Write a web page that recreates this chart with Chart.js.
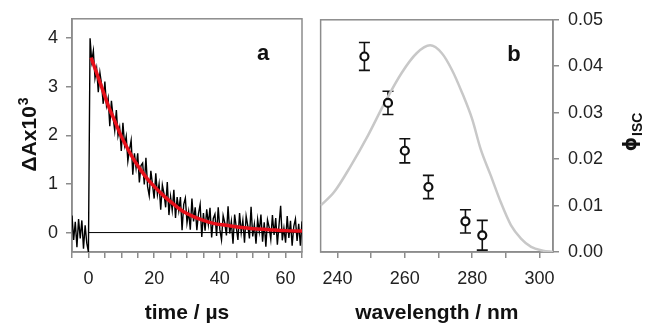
<!DOCTYPE html>
<html>
<head>
<meta charset="utf-8">
<script src="https://cdn.jsdelivr.net/npm/chart.js@4.4.1/dist/chart.umd.min.js"></script>
<style>
  html, body { margin: 0; padding: 0; background: #fff; }
  #wrap { position: relative; width: 647px; height: 326px; }
  #decayChart { position: absolute; left: 0; top: 0; }
  #yieldChart { position: absolute; left: 312px; top: 0; }
</style>
</head>
<body>
<div id="wrap">
  <canvas id="decayChart" width="312" height="326"></canvas>
  <canvas id="yieldChart" width="335" height="326"></canvas>
</div>
<script>
// panel a: transient absorption trace, sampled every 0.5 us from -5 us
const traceStart = -5;
const traceStep = 0.5;
const traceValues = [
  0.35, -0.15, 0.22, -0.30, 0.28, -0.12, 0.25, -0.33, 0.15, -0.22, -0.40,
  4.00, 3.52, 3.74, 3.18, 3.38, 2.89, 3.29, 3.05, 2.65, 3.11,
  2.61, 2.77, 2.19, 2.71, 2.38, 2.10, 2.52, 1.99, 2.16, 1.68,
  2.26, 1.80, 1.98, 1.47, 1.71, 1.90, 1.19, 1.63, 1.33, 1.63,
  1.03, 1.38, 1.43, 0.99, 1.54, 0.95, 0.76, 1.27, 0.99, 0.70,
  1.22, 0.78, 1.00, 0.47, 0.98, 0.80, 0.52, 1.04, 0.36, 0.74,
  0.46, 0.88, 0.30, 0.73, 0.45, 0.73, 0.05, 0.58, 0.71, 0.20,
  0.43, 0.06, 0.70, 0.23, 0.52, 0.05, 0.39, 0.58, -0.09, 0.40,
  0.04, 0.48, 0.17, 0.51, -0.10, 0.29, 0.38, -0.07, 0.52, 0.06,
  -0.15, 0.35, 0.20, -0.06, 0.54, -0.02, 0.23, -0.23, 0.37, 0.11,
  -0.15, 0.40, 0.00, 0.25, -0.21, 0.34, 0.14, -0.12, 0.53, -0.08,
  0.17, -0.23, 0.27, 0.02, 0.37, -0.19, 0.21, -0.29, 0.26, 0.11,
  -0.14, 0.36, -0.05, 0.30, -0.25, 0.15, 0.55, -0.16, 0.09, -0.21,
  0.34, -0.11, 0.24, -0.27, 0.13, 0.28, -0.17, 0.18, -0.27, 0.23
];
const fitTimes = [0.8, 2, 4, 6, 8, 10, 12, 14, 16, 18, 20, 23, 26, 29, 32, 35, 38, 42, 46, 50, 55, 60, 65];
const fitValues = [3.60, 3.38, 3.00, 2.62, 2.30, 1.98, 1.72, 1.48, 1.28, 1.10, 0.95, 0.75, 0.58, 0.43, 0.33, 0.25, 0.19, 0.15, 0.11, 0.08, 0.06, 0.04, 0.03];
const baselineTimes = [0, 65];
const baselineValues = [0, 0];

// panel b: ISC quantum yield vs excitation wavelength, plus absorption band
const wavelengths = [248, 255, 260, 267, 278, 283];
const iscYield = [0.0421, 0.0321, 0.0218, 0.0140, 0.0066, 0.0036];
const iscError = [0.0030, 0.0025, 0.0026, 0.0025, 0.0025, 0.0032];
const absWavelengths = [235, 239, 244, 249, 254, 259, 263.5, 267.5, 271, 274, 277, 280, 282.5, 285.5, 288.5, 291.5, 294.5, 297.5, 301, 304];
const absValues = [0.0100, 0.0129, 0.0186, 0.0250, 0.0321, 0.0385, 0.0428, 0.0445, 0.0428, 0.0392, 0.0343, 0.0286, 0.0222, 0.0165, 0.0107, 0.0058, 0.0029, 0.0011, 0.0003, 0.0000];

const frameColor = "#8c8c8c";
const tickColor = "#222";
const titleColor = "#111";
const fontFamily = '"Liberation Sans", Arial, sans-serif';

Chart.defaults.font.family = fontFamily;
Chart.defaults.animation = false;

const toPoints = (xs, ys) => xs.map((x, i) => ({ x, y: ys[i] }));

const framePlugin = {
  id: "frame",
  beforeDatasetsDraw(chart) {
    const { ctx, chartArea: a } = chart;
    ctx.save();
    ctx.strokeStyle = frameColor;
    ctx.lineWidth = 1.5;
    ctx.strokeRect(a.left, a.top, a.right - a.left, a.bottom - a.top);
    ctx.restore();
  }
};

function panelLetter(letter) {
  return {
    id: "panelLetter",
    afterDraw(chart) {
      const { ctx, chartArea: a } = chart;
      ctx.save();
      ctx.fillStyle = titleColor;
      ctx.font = "bold 22px " + fontFamily;
      ctx.textAlign = "center";
      ctx.textBaseline = "alphabetic";
      ctx.fillText(letter, a.right - 39, a.top + 41);
      ctx.restore();
    }
  };
}

// rotated title with a raised/lowered small part, reading bottom to top
function sideTitle(id, main, mainFont, small, smallFont, shift, getPos) {
  return {
    id,
    afterDraw(chart) {
      const { ctx } = chart;
      const p = getPos(chart);
      ctx.save();
      ctx.fillStyle = titleColor;
      ctx.textBaseline = "alphabetic";
      ctx.font = mainFont;
      const w1 = ctx.measureText(main).width;
      ctx.font = smallFont;
      const w2 = ctx.measureText(small).width;
      ctx.translate(p.x, p.y + (w1 + w2 + 1) / 2);
      ctx.rotate(-Math.PI / 2);
      ctx.font = mainFont;
      ctx.fillText(main, 0, 0);
      ctx.font = smallFont;
      ctx.fillText(small, w1 + 1, shift);
      ctx.restore();
    }
  };
}

function baseScales(xOpts, yOpts) {
  const common = {
    type: "linear",
    grid: { drawOnChartArea: false, drawTicks: true, tickLength: 6, color: frameColor, lineWidth: 1.5 },
    border: { color: frameColor, width: 1.5 }
  };
  return {
    x: Object.assign({}, common, xOpts),
    y: Object.assign({}, common, yOpts)
  };
}

// ---------- panel a ----------
new Chart(document.getElementById("decayChart"), {
  type: "line",
  data: {
    datasets: [
      {
        data: toPoints(fitTimes, fitValues),
        borderColor: "#e8101a",
        borderWidth: 3.5,
        pointRadius: 0,
        cubicInterpolationMode: "monotone"
      },
      {
        data: traceValues.map((v, i) => ({ x: traceStart + i * traceStep, y: v })),
        borderColor: "#000",
        borderWidth: 1.4,
        pointRadius: 0,
        tension: 0
      },
      {
        data: toPoints(baselineTimes, baselineValues),
        borderColor: "#000",
        borderWidth: 1,
        pointRadius: 0
      }
    ]
  },
  options: {
    responsive: false,
    devicePixelRatio: 1,
    layout: { padding: { left: 0, right: 5, top: 18, bottom: 0 } },
    plugins: { legend: { display: false }, tooltip: { enabled: false } },
    scales: baseScales(
      {
        min: -5, max: 65,
        ticks: {
          stepSize: 5, autoSkip: false, maxRotation: 0, padding: 10,
          color: tickColor, font: { size: 18 },
          callback: v => (v % 20 === 0 ? v : "")
        },
        title: { display: true, text: "time / µs", color: titleColor, font: { size: 21, weight: "bold" }, padding: { top: 0, bottom: 0 } },
        afterFit: s => { s.height = 74; }
      },
      {
        min: -0.4, max: 4.4,
        ticks: { stepSize: 1, includeBounds: false, padding: 8, color: tickColor, font: { size: 18 } },
        afterFit: s => { s.width = 72; }
      }
    )
  },
  plugins: [
    framePlugin,
    panelLetter("a"),
    sideTitle("yTitle", "ΔAx10", "bold 21px " + fontFamily, "3", "bold 14px " + fontFamily, -8,
      c => ({ x: 35.5, y: (c.chartArea.top + c.chartArea.bottom) / 2 - 1 }))
  ]
});

// ---------- panel b ----------
const errorBarPlugin = {
  id: "errorBars",
  beforeDatasetsDraw(chart) {
    const { ctx, scales: { x, y } } = chart;
    ctx.save();
    ctx.strokeStyle = "#111";
    ctx.lineWidth = 1.6;
    wavelengths.forEach((w, i) => {
      const px = x.getPixelForValue(w);
      const top = y.getPixelForValue(iscYield[i] + iscError[i]);
      const bot = y.getPixelForValue(iscYield[i] - iscError[i]);
      ctx.beginPath();
      ctx.moveTo(px, top); ctx.lineTo(px, bot);
      ctx.moveTo(px - 5.5, top); ctx.lineTo(px + 5.5, top);
      ctx.moveTo(px - 5.5, bot); ctx.lineTo(px + 5.5, bot);
      ctx.stroke();
    });
    ctx.restore();
  }
};

new Chart(document.getElementById("yieldChart"), {
  type: "line",
  data: {
    datasets: [
      {
        data: toPoints(wavelengths, iscYield),
        showLine: false,
        pointStyle: "circle",
        pointRadius: 4,
        pointBorderWidth: 2.2,
        pointBorderColor: "#111",
        pointBackgroundColor: "#fff"
      },
      {
        data: toPoints(absWavelengths, absValues),
        borderColor: "#c8c8c8",
        borderWidth: 2.5,
        pointRadius: 0,
        cubicInterpolationMode: "monotone"
      }
    ]
  },
  options: {
    responsive: false,
    devicePixelRatio: 1,
    layout: { padding: { left: 6, right: 0, top: 18, bottom: 0 } },
    plugins: { legend: { display: false }, tooltip: { enabled: false } },
    scales: baseScales(
      {
        min: 235, max: 304,
        ticks: {
          stepSize: 10, includeBounds: false, autoSkip: false, maxRotation: 0, padding: 10,
          color: tickColor, font: { size: 18 },
          callback: v => (v % 20 === 0 ? v : "")
        },
        title: { display: true, text: "wavelength / nm", color: titleColor, font: { size: 21, weight: "bold" }, padding: { top: 0, bottom: 0 } },
        afterFit: s => { s.height = 74; }
      },
      {
        position: "right",
        min: 0, max: 0.05,
        ticks: { stepSize: 0.01, padding: 9, color: tickColor, font: { size: 18 }, callback: v => v.toFixed(2) },
        afterFit: s => { s.width = 94; }
      }
    )
  },
  plugins: [
    framePlugin,
    errorBarPlugin,
    panelLetter("b"),
    sideTitle("phiTitle", "ϕ", 'bold 18px "DejaVu Sans", sans-serif', "ISC", "bold 14px " + fontFamily, 6,
      c => ({ x: c.width - 11, y: 132 }))
  ]
});
</script>
</body>
</html>
